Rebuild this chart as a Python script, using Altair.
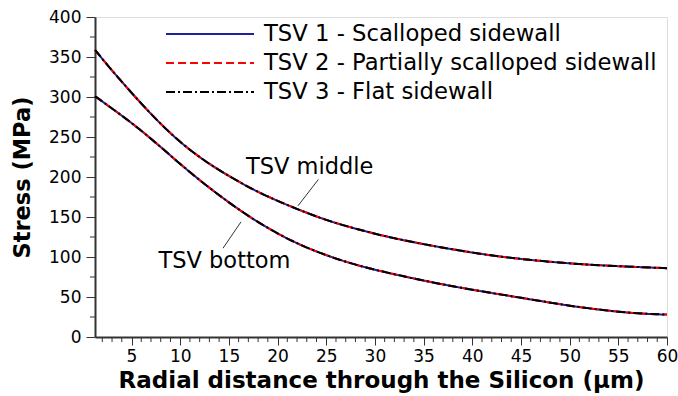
import altair as alt
import pandas as pd

# ---- data ----
radius = [1.25, 2.5, 5, 7.5, 10, 12.5, 15, 17.5, 20, 22.5, 25, 27.5, 30,
          32.5, 35, 37.5, 40, 42.5, 45, 47.5, 50, 52.5, 55, 57.5, 60]
stress_middle = [359, 340, 305, 272, 243, 220, 201, 184, 170, 157.5, 146, 137, 129,
                 122, 116, 110.5, 105.5, 101, 97.5, 94.5, 92, 90, 88.5, 87.2, 86]
stress_bottom = [301, 290, 268, 243, 216, 191, 168, 147, 129, 114, 102, 92, 84,
                 77, 70.5, 64.5, 59, 54, 49, 44, 39, 35, 31.5, 29, 28]

series = ["TSV 1 - Scalloped sidewall",
          "TSV 2 - Partially scalloped sidewall",
          "TSV 3 - Flat sidewall"]
series_colors = ["#1f1fa0", "#ff0000", "#000000"]
series_dashes = [[1, 0], [8, 4], [9, 3, 2, 3]]

x_major = [5, 10, 15, 20, 25, 30, 35, 40, 45, 50, 55, 60]
x_minor = [v for v in range(2, 61) if v % 5 != 0]
y_major = [0, 50, 100, 150, 200, 250, 300, 350, 400]
y_minor = [25, 75, 125, 175, 225, 275, 325, 375]

ann_text = ["TSV middle", "TSV bottom"]
ann_x = [23.3, 14.55]
ann_y = [213, 95]
ptr_x = [22.1, 16.25]
ptr_y = [164, 144]
ptr_x2 = [24.2, 14.4]
ptr_y2 = [197, 111]

FONT = "DejaVu Sans"

rows = []
for s in series:
    for pos, vals in (("middle", stress_middle), ("bottom", stress_bottom)):
        for x, y in zip(radius, vals):
            rows.append({"series": s, "pos": pos, "r": x, "stress": y})
df = pd.DataFrame(rows)

xscale = alt.Scale(domain=[1.25, 60], nice=False, zero=False)
yscale = alt.Scale(domain=[0, 400], nice=False)

color = alt.Color(
    "series:N", title=None,
    scale=alt.Scale(domain=series, range=series_colors),
    legend=alt.Legend(
        orient="none", legendX=70, legendY=3, direction="vertical",
        symbolType="stroke", symbolSize=7744, symbolStrokeWidth=2,
        labelFont=FONT, labelFontSize=22.7, labelColor="#000000",
        labelOffset=9, clipHeight=28, rowPadding=1, labelLimit=600,
    ),
)
dash = alt.StrokeDash(
    "series:N", title=None,
    scale=alt.Scale(domain=series, range=series_dashes),
)

xaxis = alt.Axis(
    values=x_major, tickSize=8, tickColor="#333333", tickWidth=1,
    domainColor="#333333", domainWidth=2, grid=False,
    labelFont=FONT, labelFontSize=17, labelColor="#000000", labelPadding=3,
    labelFlush=False,
    title="Radial distance through the Silicon (µm)", titleFont=FONT,
    titleFontSize=23, titleFontWeight="bold", titleColor="#000000", titlePadding=5,
)
yaxis = alt.Axis(
    values=y_major, tickSize=9, tickColor="#333333", tickWidth=1,
    domainColor="#333333", domainWidth=2, grid=False,
    labelFont=FONT, labelFontSize=17, labelColor="#000000", labelPadding=5,
    title="Stress (MPa)", titleFont=FONT, titleFontSize=22.5,
    titleFontWeight="bold", titleColor="#000000", titlePadding=14,
)

base = alt.Chart(df)
line_layers = []
for s in series:
    line_layers.append(
        base.transform_filter(alt.datum.series == s)
        .mark_line(strokeWidth=2, interpolate="basis")
        .encode(
            x=alt.X("r:Q", scale=xscale, axis=xaxis),
            y=alt.Y("stress:Q", scale=yscale, axis=yaxis),
            color=color, strokeDash=dash, detail="pos:N",
        )
    )

minor_x = alt.Chart(pd.DataFrame({"v": x_minor})).mark_rule(
    color="#333333", strokeWidth=1
).encode(x=alt.X("v:Q", scale=xscale, axis=xaxis), y=alt.value(320), y2=alt.value(325))

minor_y = alt.Chart(pd.DataFrame({"v": y_minor})).mark_rule(
    color="#333333", strokeWidth=1
).encode(y=alt.Y("v:Q", scale=yscale, axis=yaxis), x=alt.value(0), x2=alt.value(-5))

ann_df = pd.DataFrame({"t": ann_text, "x": ann_x, "y": ann_y})
ann = alt.Chart(ann_df).mark_text(
    font=FONT, fontSize=22.5, color="#000000", align="center", baseline="middle"
).encode(
    x=alt.X("x:Q", scale=xscale, axis=xaxis),
    y=alt.Y("y:Q", scale=yscale, axis=yaxis),
    text="t:N",
)

ptr_df = pd.DataFrame({"x": ptr_x, "y": ptr_y, "x2": ptr_x2, "y2": ptr_y2})
ptr = alt.Chart(ptr_df).mark_rule(color="#333333", strokeWidth=1).encode(
    x=alt.X("x:Q", scale=xscale, axis=xaxis),
    y=alt.Y("y:Q", scale=yscale, axis=yaxis),
    x2="x2:Q", y2="y2:Q",
)

chart = alt.layer(*line_layers, minor_x, minor_y, ptr, ann).properties(
    width=572, height=320,
    autosize=alt.AutoSizeParams(type="none"),
    padding={"left": 95, "top": 17, "right": 11, "bottom": 59},
).configure_view(stroke="#9a9a9a", strokeWidth=2).configure(background="white")

chart.save("out.html", embed_options={"renderer": "svg", "actions": False})
